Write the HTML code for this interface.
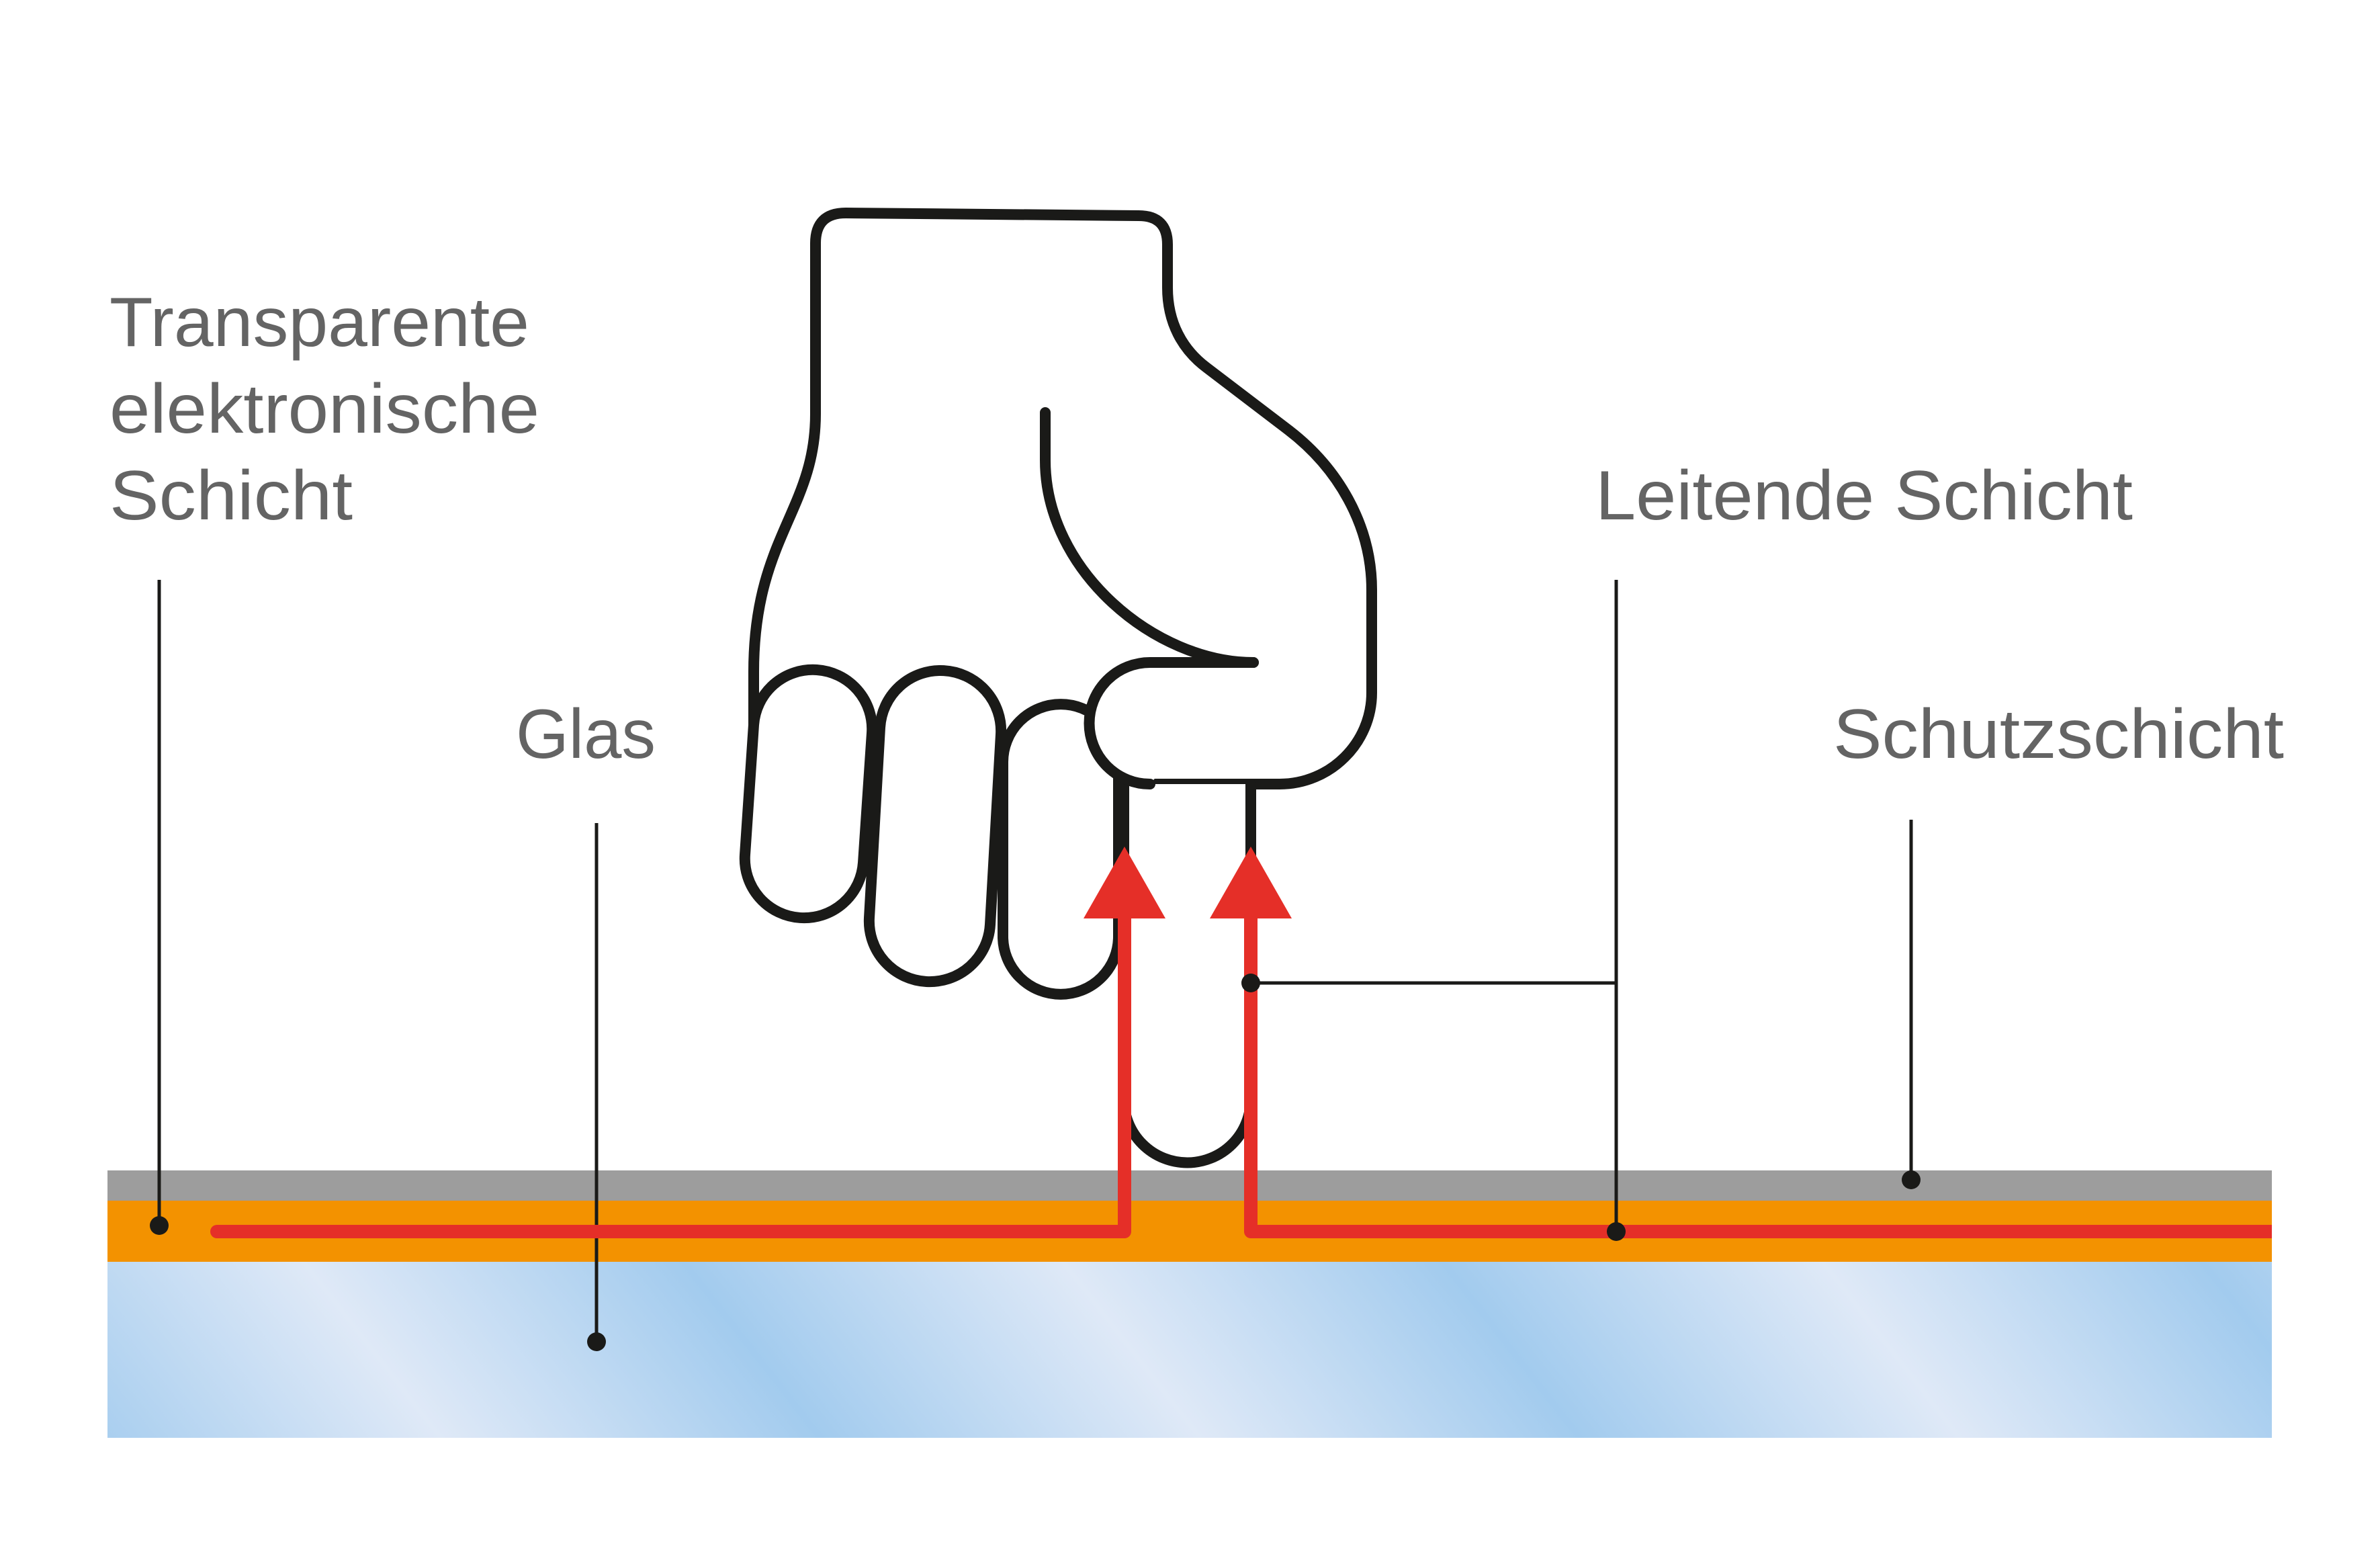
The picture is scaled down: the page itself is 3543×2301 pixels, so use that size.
<!DOCTYPE html>
<html><head><meta charset="utf-8"><style>html,body{margin:0;padding:0;background:#fff}svg{display:block}</style></head>
<body>
<svg width="3543" height="2301" viewBox="0 0 3543 2301" xmlns="http://www.w3.org/2000/svg">
<defs>
<linearGradient id="gl" gradientUnits="userSpaceOnUse" x1="452" y1="1878" x2="1156" y2="1330" spreadMethod="repeat">
<stop offset="0" stop-color="#dfe9f7"/>
<stop offset="0.5" stop-color="#a2cbee"/>
<stop offset="1" stop-color="#dfe9f7"/>
</linearGradient>
</defs>
<rect x="0" y="0" width="3543" height="2301" fill="#fff"/>
<rect x="160" y="1742" width="3222" height="46" fill="#9d9d9d"/>
<rect x="160" y="1787" width="3222" height="91" fill="#f39200"/>
<rect x="160" y="1878" width="3222" height="262" fill="url(#gl)"/>

<g font-family="Liberation Sans, sans-serif" font-size="104" fill="#646464">
<text x="163" y="515" textLength="625" lengthAdjust="spacingAndGlyphs">Transparente</text>
<text x="163" y="644" textLength="640" lengthAdjust="spacingAndGlyphs">elektronische</text>
<text x="163" y="773" textLength="362" lengthAdjust="spacingAndGlyphs">Schicht</text>
<text x="768" y="1128" textLength="208" lengthAdjust="spacingAndGlyphs">Glas</text>
<text x="2375" y="773" textLength="800" lengthAdjust="spacingAndGlyphs">Leitende Schicht</text>
<text x="2729" y="1128" textLength="671" lengthAdjust="spacingAndGlyphs">Schutzschicht</text>
</g>

<g stroke="#1a1a18" stroke-width="5" fill="none">
<line x1="237" y1="863" x2="237" y2="1824"/>
<line x1="888" y1="1225" x2="888" y2="1997"/>
<line x1="2406" y1="863" x2="2406" y2="1833"/>
<line x1="1862" y1="1463" x2="2406" y2="1463"/>
<line x1="2845" y1="1220" x2="2845" y2="1756"/>
</g>

<g stroke="#1a1a18" stroke-width="16" stroke-linecap="round" stroke-linejoin="round" fill="#fff">
<path d="M1122,1080 L1122,1000 C1122,800 1214,760 1214,616 L1214,362 Q1214,317 1259,317 L1695,321 Q1738,321 1738,364 L1738,428 C1738,480 1760,520 1796,547 L1918,640 C1990,695 2042,780 2042,878 L2042,1031 C2042,1106 1980,1167 1905,1167 L1712,1167"/>
<path d="M1673,1167 L1673,1636 A94.5,94.5 0 0 0 1862,1636 L1862,1167"/>
<path d="M1493,1134 A86,86 0 0 1 1665,1134 L1665,1394 A86,86 0 0 1 1493,1394 Z"/>
<path d="M1310,1083 A90,90 0 0 1 1490,1093 L1474,1376 A90,90 0 0 1 1294,1366 Z"/>
<path d="M1122,1079 A88,88 0 0 1 1298,1091 L1285,1284 A88,88 0 0 1 1109,1272 Z"/>
<path d="M1866,986 L1712,986 A90.5,90.5 0 0 0 1712,1167"/>
<path d="M1556,614 L1556,685 C1556,850 1720,986 1866,986" fill="none"/>
</g>

<g stroke="#e52f28" stroke-width="20" fill="none" stroke-linejoin="round">
<path d="M323,1833 L1674,1833 L1674,1360" stroke-linecap="round"/>
<path d="M1862,1360 L1862,1833 L3382,1833"/>
</g>
<g fill="#e52f28">
<polygon points="1674,1260 1613,1367 1735,1367"/>
<polygon points="1862,1260 1801,1367 1923,1367"/>
</g>

<g fill="#1a1a18">
<circle cx="237" cy="1824" r="14"/>
<circle cx="888" cy="1997" r="14"/>
<circle cx="2406" cy="1833" r="14"/>
<circle cx="1862" cy="1463" r="14"/>
<circle cx="2845" cy="1756" r="14"/>
</g>
</svg>
</body></html>
